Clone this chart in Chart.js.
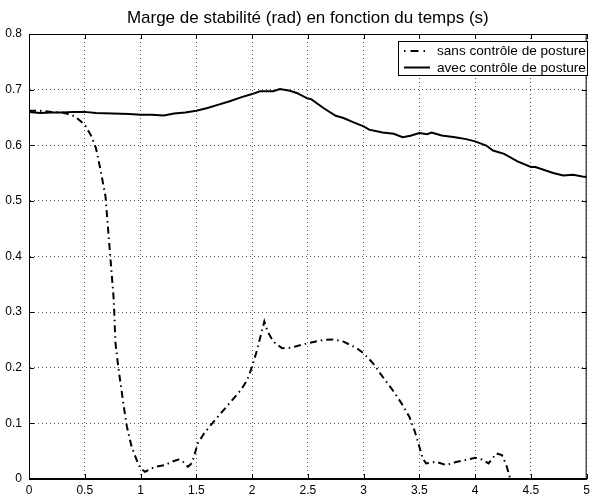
<!DOCTYPE html>
<html>
<head>
<meta charset="utf-8">
<script src="https://cdn.jsdelivr.net/npm/chart.js@4"></script>
<style>
  html, body { margin: 0; padding: 0; background: #fff; }
  canvas { display: block; }
</style>
</head>
<body>
<canvas id="stabChart" width="594" height="498"></canvas>
<script>
const TITLE = 'Marge de stabilité (rad) en fonction du temps (s)';
const FONT = '"Liberation Sans", Arial, Helvetica, sans-serif';

const xTickLabels = ['0', '0.5', '1', '1.5', '2', '2.5', '3', '3.5', '4', '4.5', '5'];
const yTickLabels = ['0', '0.1', '0.2', '0.3', '0.4', '0.5', '0.6', '0.7', '0.8'];

// sans contrôle de posture (dash-dot)
const sansLabel = 'sans contrôle de posture';
const sansTime = [0, 0.1, 0.2, 0.3, 0.352, 0.41, 0.5, 0.56, 0.6, 0.64, 0.686, 0.70, 0.76,
  0.775, 0.80, 0.85, 0.878, 0.92, 0.966, 1.0, 1.04, 1.13, 1.22, 1.28, 1.34, 1.38, 1.425,
  1.463, 1.513, 1.57, 1.63, 1.72, 1.81, 1.9, 1.957, 2.0, 2.045, 2.09, 2.11, 2.14, 2.19,
  2.27, 2.35, 2.495, 2.64, 2.73, 2.82, 2.94, 3.0, 3.085, 3.17, 3.26, 3.34, 3.41, 3.455,
  3.5, 3.53, 3.56, 3.65, 3.74, 3.82, 3.91, 4.0, 4.06, 4.12, 4.19, 4.24, 4.28, 4.31, 4.32];
const sansValue = [0.662, 0.662, 0.660, 0.659, 0.656, 0.652, 0.637, 0.616, 0.595, 0.557, 0.508, 0.472, 0.322,
  0.245, 0.202, 0.130, 0.094, 0.058, 0.034, 0.019, 0.013, 0.022, 0.025, 0.031, 0.035, 0.031, 0.022,
  0.029, 0.064, 0.082, 0.097, 0.118, 0.139, 0.160, 0.178, 0.202, 0.232, 0.268, 0.283, 0.265, 0.247,
  0.235, 0.236, 0.244, 0.250, 0.251, 0.247, 0.235, 0.226, 0.208, 0.184, 0.160, 0.136, 0.112, 0.088,
  0.058, 0.037, 0.028, 0.031, 0.025, 0.030, 0.034, 0.038, 0.035, 0.028, 0.046, 0.043, 0.025, 0.004, 0];

// avec contrôle de posture (solid)
const avecLabel = 'avec contrôle de posture';
const avecTime = [0, 0.1, 0.2, 0.3, 0.4, 0.5, 0.6, 0.75, 0.9, 1.0, 1.1, 1.21, 1.3, 1.4, 1.5,
  1.6, 1.7, 1.8, 1.9, 2.0, 2.07, 2.19, 2.25, 2.34, 2.4, 2.5, 2.53, 2.64, 2.75, 2.82, 2.9,
  3.0, 3.05, 3.17, 3.27, 3.35, 3.42, 3.5, 3.57, 3.61, 3.7, 3.82, 3.92, 4.0, 4.1, 4.16,
  4.26, 4.38, 4.5, 4.54, 4.7, 4.79, 4.88, 4.96, 5.0];
const avecValue = [0.660, 0.658, 0.659, 0.659, 0.660, 0.660, 0.658, 0.657, 0.656, 0.655, 0.655, 0.6535, 0.657, 0.659, 0.662,
  0.667, 0.673, 0.679, 0.686, 0.692, 0.697, 0.697, 0.701, 0.698, 0.694, 0.684, 0.683, 0.667, 0.653, 0.649, 0.642,
  0.634, 0.628, 0.623, 0.6205, 0.6145, 0.617, 0.622, 0.620, 0.623, 0.6175, 0.6145, 0.611, 0.607, 0.5995, 0.5905,
  0.5845, 0.571, 0.561, 0.561, 0.550, 0.5455, 0.547, 0.544, 0.543];

const toPoints = (xs, ys) => xs.map((x, i) => ({ x: x, y: ys[i] }));

// frame, inward ticks, title and legend box, MATLAB style
const matlabFrame = {
  id: 'matlabFrame',
  afterDraw(chart) {
    const c = chart.ctx;
    const a = chart.chartArea;
    const xs = chart.scales.x, ys = chart.scales.y;
    c.save();
    c.strokeStyle = '#000';
    c.lineWidth = 1;
    c.setLineDash([]);
    c.strokeRect(a.left + 0.5, a.top + 0.5, a.right - a.left - 1, a.bottom - a.top - 1);
    c.beginPath();
    xs.ticks.forEach(t => {
      const px = Math.round(xs.getPixelForValue(t.value)) + 0.5;
      c.moveTo(px, a.bottom); c.lineTo(px, a.bottom - 5);
      c.moveTo(px, a.top); c.lineTo(px, a.top + 5);
    });
    ys.ticks.forEach(t => {
      const py = Math.round(ys.getPixelForValue(t.value)) + 0.5;
      c.moveTo(a.left, py); c.lineTo(a.left + 5, py);
      c.moveTo(a.right, py); c.lineTo(a.right - 5, py);
    });
    c.stroke();

    // title
    c.fillStyle = '#000';
    c.font = '17px ' + FONT;
    c.textAlign = 'center';
    c.textBaseline = 'alphabetic';
    c.fillText(TITLE, (a.left + a.right) / 2, 23);

    // legend
    const box = { l: 398, t: 41, r: 587, b: 75 };
    c.fillStyle = '#fff';
    c.fillRect(box.l, box.t, box.r - box.l, box.b - box.t);
    c.font = '13.6px ' + FONT;
    c.textAlign = 'left';
    c.textBaseline = 'middle';
    chart.data.datasets.forEach((ds, i) => {
      const y = box.t + 10 + i * 16.5;
      c.strokeStyle = ds.borderColor;
      c.lineWidth = ds.borderWidth;
      c.setLineDash(i === 0 ? [1.5, 5, 8, 5] : []);
      c.beginPath();
      c.moveTo(404, y); c.lineTo(430, y);
      c.stroke();
      c.fillStyle = '#000';
      c.fillText(ds.label, 437, y + 0.5);
    });
    c.setLineDash([]);
    c.lineWidth = 1;
    c.strokeStyle = '#000';
    c.strokeRect(box.l + 0.5, box.t + 0.5, box.r - box.l, box.b - box.t);
    c.restore();
  }
};

const ctx = document.getElementById('stabChart').getContext('2d');
const stabChart = new Chart(ctx, {
  type: 'line',
  data: {
    datasets: [{
      label: sansLabel,
      data: toPoints(sansTime, sansValue),
      borderColor: '#000',
      borderWidth: 2,
      borderDash: [7, 4, 1.5, 4],
      pointRadius: 0,
      tension: 0,
      fill: false
    }, {
      label: avecLabel,
      data: toPoints(avecTime, avecValue),
      borderColor: '#000',
      borderWidth: 2,
      pointRadius: 0,
      tension: 0,
      fill: false
    }]
  },
  options: {
    responsive: false,
    animation: false,
    devicePixelRatio: 1,
    layout: { padding: { top: 34, right: 1, left: 0, bottom: 0 } },
    plugins: {
      legend: { display: false },
      title: { display: false },
      tooltip: { enabled: false }
    },
    scales: {
      x: {
        type: 'linear',
        min: 0,
        max: 5,
        afterFit: s => { s.height = 19; },
        border: { display: true, color: '#000', dash: [1, 3] },
        grid: { color: '#555', lineWidth: 1, drawTicks: false },
        ticks: {
          stepSize: 0.5,
          maxRotation: 0,
          autoSkip: false,
          padding: 4,
          color: '#000',
          font: { family: FONT, size: 12 },
          callback: (v, i) => xTickLabels[i]
        }
      },
      y: {
        type: 'linear',
        min: 0,
        max: 0.8,
        afterFit: s => { s.width = 29; },
        border: { display: true, color: '#000', dash: [1, 3] },
        grid: { color: '#555', lineWidth: 1, drawTicks: false },
        ticks: {
          stepSize: 0.1,
          autoSkip: false,
          padding: 7,
          color: '#000',
          font: { family: FONT, size: 12 },
          callback: (v, i) => yTickLabels[i]
        }
      }
    }
  },
  plugins: [matlabFrame]
});
</script>
</body>
</html>
